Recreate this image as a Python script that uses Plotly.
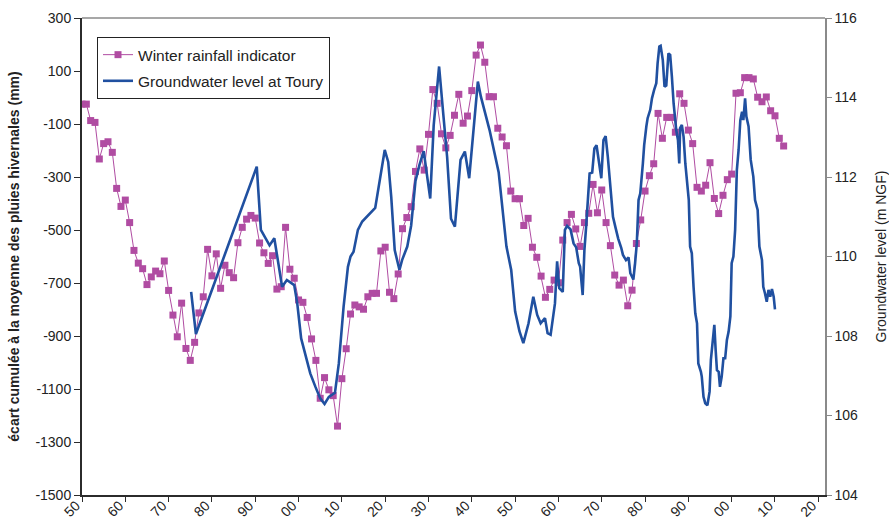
import plotly.graph_objects as go

# Winter rainfall indicator: cumulative departure from the winter rainfall mean (mm), one value per year
rain_years = list(range(1850, 2013))
rain_values = [
    -25, -25, -87, -94, -232, -174, -167, -207, -343, -411,      # 1850-1859
    -387, -472, -577, -625, -646, -706, -677, -655, -665, -617,  # 1860-1869
    -728, -821, -903, -776, -947, -992, -924, -813, -752, -573,  # 1870-1879
    -673, -590, -720, -633, -661, -680, -548, -490, -459, -445,  # 1880-1889
    -455, -549, -586, -626, -597, -723, -714, -490, -648, -682,  # 1890-1899
    -764, -773, -830, -911, -992, -1135, -1057, -1103, -1125, -1240,  # 1900-1909
    -1061, -948, -817, -783, -790, -799, -752, -739, -739, -579,  # 1910-1919
    -565, -735, -759, -666, -495, -453, -412, -279, -194, -274,  # 1920-1929
    -139, 30, -22, -137, -190, -143, -67, 12, -97, -70,          # 1930-1939
    26, 160, 198, 133, 3, 3, -116, -149, -182, -353,             # 1940-1949
    -382, -382, -483, -456, -565, -603, -674, -754, -724, -689,  # 1950-1959
    -699, -538, -472, -441, -496, -562, -472, -437, -328, -435,  # 1960-1969
    -349, -472, -559, -670, -708, -689, -786, -727, -551, -462,  # 1970-1979
    -353, -295, -250, -60, -154, -75, -75, -131, 14, -22,        # 1980-1989
    -123, -174, -339, -353, -331, -246, -381, -438, -369, -310,  # 1990-1999
    -289, 16, 18, 75, 75, 70, 1, -16, 2, -50,                    # 2000-2009
    -69, -154, -183,                                             # 2010-2012
]

# Groundwater level at Toury (m NGF), dated in decimal years
gw_years = [
    1875.2, 1876.3, 1890.35, 1891.3, 1893.3, 1894.4, 1896.2, 1897.3, 1899.0, 1899.7,
    1900.6, 1901.6, 1902.7, 1903.9, 1905.0, 1906.0, 1907.0, 1908.4, 1909.3, 1910.4,
    1911.4, 1912.0, 1912.7, 1913.7, 1914.7, 1917.7, 1918.9, 1919.9, 1920.7, 1921.4,
    1922.2, 1923.3, 1923.9, 1925.1, 1926.0, 1927.0, 1927.9, 1928.9, 1929.7, 1930.4,
    1931.2, 1932.45, 1933.4, 1934.3, 1935.2, 1936.1, 1937.4, 1938.4, 1939.4, 1940.3,
    1941.4, 1942.1, 1944.1, 1946.2, 1948.0, 1949.1, 1950.0, 1951.0, 1951.9, 1953.1,
    1954.2, 1955.1, 1955.9, 1956.9, 1957.5, 1958.2, 1959.2, 1959.7, 1960.2, 1961.0,
    1961.5, 1962.0, 1962.8, 1963.5, 1964.1, 1964.7, 1965.0, 1965.6, 1966.0, 1966.4,
    1967.2, 1967.8, 1968.3, 1968.8, 1969.5, 1969.9, 1970.4, 1970.9, 1971.4, 1971.9,
    1972.6, 1973.2, 1973.8, 1974.5, 1974.9, 1975.6, 1976.2, 1976.6, 1977.3, 1977.7,
    1978.1, 1978.5, 1978.9, 1979.5, 1979.8, 1980.3, 1980.6, 1981.2, 1981.6, 1982.1,
    1982.6, 1982.9, 1983.3, 1983.6, 1984.1, 1984.5, 1984.9, 1985.4, 1985.8, 1986.2,
    1986.6, 1987.2, 1987.6, 1987.9, 1988.1, 1988.5, 1988.9, 1989.3, 1989.7, 1990.1,
    1990.4, 1990.8, 1991.2, 1991.6, 1992.0, 1992.3, 1992.9, 1993.1, 1993.5, 1993.9,
    1994.4, 1994.9, 1995.2, 1995.7, 1996.0, 1996.3, 1996.6, 1997.0, 1997.3, 1997.7,
    1998.1, 1998.5, 1998.9, 1999.3, 1999.7, 2000.0, 2000.4, 2000.8, 2001.2, 2001.6,
    2002.0, 2002.4, 2002.7, 2003.1, 2003.4, 2003.9, 2004.4, 2005.0, 2005.4, 2006.0,
    2006.4, 2007.0, 2007.3, 2007.7, 2008.1, 2008.5, 2008.9, 2009.3, 2009.7, 2010.0,
]
gw_levels = [
    109.11, 108.05, 112.26, 110.67, 110.28, 110.46, 109.24, 109.41, 109.28, 108.82,
    107.94, 107.52, 107.06, 106.72, 106.43, 106.29, 106.47, 106.57, 107.31, 108.74,
    109.74, 110.00, 110.12, 110.67, 110.88, 111.22, 112.01, 112.68, 112.38, 111.50,
    110.16, 109.66, 109.91, 110.25, 110.78, 111.90, 112.30, 112.65, 112.01, 111.46,
    113.30, 114.78, 113.60, 112.51, 110.95, 110.75, 112.43, 112.64, 111.97, 113.15,
    114.40, 114.02, 113.18, 112.12, 110.25, 109.66, 108.62, 108.12, 107.82, 108.32,
    108.99, 108.53, 108.32, 108.45, 108.07, 108.03, 108.82, 109.88, 109.20, 109.11,
    110.67, 110.77, 110.68, 110.33, 110.23, 109.83, 109.75, 109.03, 110.16, 110.75,
    112.09, 112.11, 112.72, 112.80, 112.34, 111.97, 112.93, 113.03, 112.51, 111.84,
    111.00, 110.72, 110.45, 110.22, 110.04, 109.91, 109.98, 109.58, 109.42, 109.83,
    110.33, 111.42, 111.59, 112.34, 112.80, 113.27, 113.48, 113.69, 113.98, 114.19,
    114.36, 114.86, 115.28, 115.30, 114.94, 114.27, 114.30, 115.11, 115.07, 114.52,
    113.85, 113.18, 112.93, 112.34, 113.23, 113.31, 113.01, 112.34, 111.76, 111.42,
    110.25, 110.08, 109.24, 108.57, 108.32, 107.31, 107.10, 106.98, 106.47, 106.31,
    106.26, 106.60, 107.40, 107.98, 108.28, 107.65, 107.14, 107.10, 106.72, 106.98,
    107.44, 107.44, 107.90, 108.11, 108.49, 109.83, 110.00, 110.67, 112.18, 112.68,
    113.43, 113.64, 113.43, 113.98, 113.52, 113.27, 112.43, 112.01, 111.42, 111.17,
    110.25, 109.91, 109.24, 109.07, 108.86, 109.16, 108.99, 109.18, 108.99, 108.67,
]

# Axis ticks
x_tick_years = list(range(1850, 2021, 10))
x_tick_labels = ["50", "60", "70", "80", "90", "00", "10", "20", "30", "40",
                 "50", "60", "70", "80", "90", "00", "10", "20"]
rain_ticks = list(range(-1500, 301, 200))
rain_tick_labels = ["-1500", "-1300", "-1100", "-900", "-700", "-500",
                    "-300", "-100", "100", "300"]
gw_ticks = list(range(104, 117, 2))

MAGENTA = "#B04CA2"
BLUE = "#2050A0"
AXIS_DARK = "#2b2b2b"
AXIS_GREY = "#8a8a8a"
FONT = "Liberation Sans, Arial, sans-serif"

fig = go.Figure()

fig.add_trace(go.Scatter(
    x=rain_years, y=rain_values,
    mode="lines+markers",
    name="Winter rainfall indicator",
    legendgroup="rain",
    line=dict(color=MAGENTA, width=1),
    marker=dict(symbol="square", size=7, color=MAGENTA),
))

fig.add_trace(go.Scatter(
    x=gw_years, y=gw_levels,
    yaxis="y2",
    mode="lines",
    name="Groundwater level at Toury",
    legendgroup="gw",
    line=dict(color=BLUE, width=2.6),
))

fig.update_layout(
    width=889, height=520, autosize=False,
    margin=dict(l=82, r=64, t=18, b=25),
    paper_bgcolor="white", plot_bgcolor="white",
    font=dict(family=FONT, size=14, color="#222"),
    showlegend=True,
    legend=dict(
        x=0.0202, y=0.96, xanchor="left", yanchor="top",
        bgcolor="white", bordercolor="#222", borderwidth=1,
        font=dict(family=FONT, size=15.5, color="#222"),
        tracegroupgap=3, traceorder="grouped",
    ),
    xaxis=dict(
        range=[1850, 2021.55], automargin=False,
        tickmode="array", tickvals=x_tick_years, ticktext=x_tick_labels,
        tickangle=-45, ticks="outside", ticklen=5, tickcolor=AXIS_DARK,
        ticklabelstandoff=-10, ticklabelshift=-6,
        showline=True, linecolor=AXIS_DARK, linewidth=2,
        showgrid=False, zeroline=False,
        tickfont=dict(family=FONT, size=14, color="#222"),
    ),
    yaxis=dict(
        range=[-1500, 300], automargin=False,
        tickmode="array", tickvals=rain_ticks, ticktext=rain_tick_labels,
        ticks="outside", ticklen=6, tickcolor=AXIS_DARK,
        showline=True, linecolor=AXIS_DARK, linewidth=2,
        showgrid=False, zeroline=False,
        tickfont=dict(family=FONT, size=14, color="#222"),
        title=dict(
            text="<b>écart cumulée à la moyenne des pluies hivernales (mm)</b>",
            font=dict(family=FONT, size=14, color="#222"),
            standoff=12,
        ),
    ),
    yaxis2=dict(
        range=[104, 116], overlaying="y", side="right", automargin=False,
        tickmode="array", tickvals=gw_ticks,
        ticks="outside", ticklen=5, tickcolor=AXIS_GREY,
        showline=True, linecolor=AXIS_GREY, linewidth=1.5,
        showgrid=False, zeroline=False,
        tickfont=dict(family=FONT, size=14, color="#222"),
        title=dict(
            text="Groundwater level (m NGF)",
            font=dict(family=FONT, size=14, color="#222"),
            standoff=25,
        ),
    ),
    shapes=[dict(
        type="line", xref="paper", yref="paper",
        x0=0, x1=1, y0=1, y1=1,
        line=dict(color=AXIS_GREY, width=1.5),
    )],
)

fig.write_html("out.html")
